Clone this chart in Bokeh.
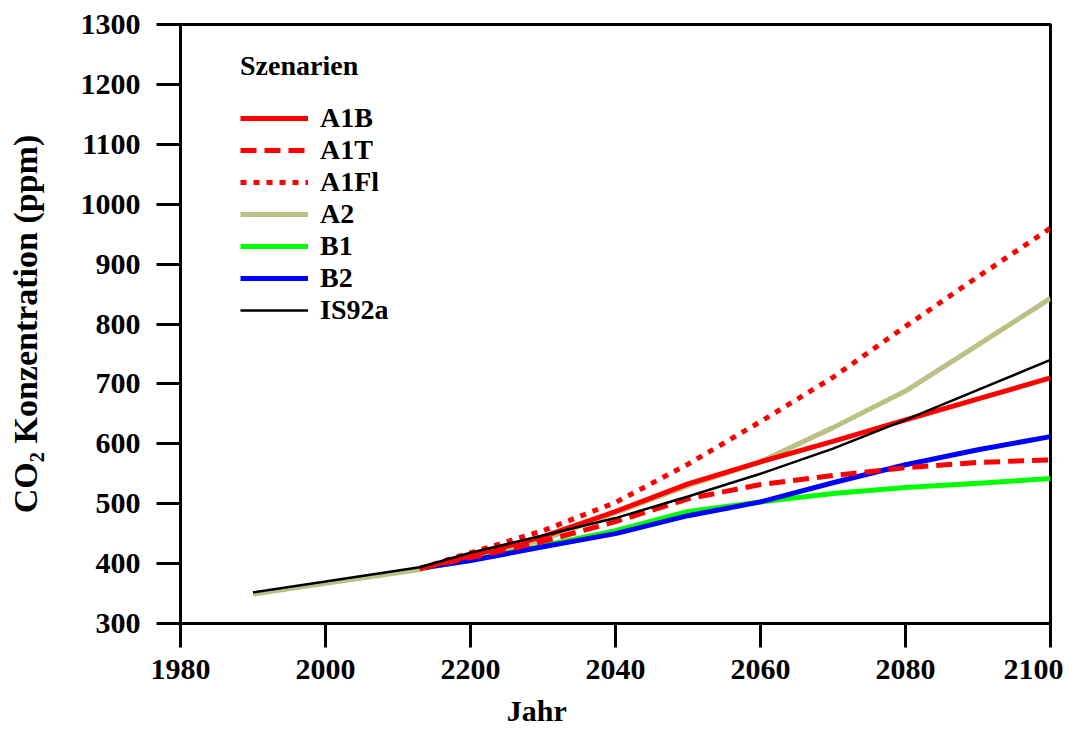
from bokeh.plotting import figure
from bokeh.models import (Range1d, FixedTicker, Legend, LegendItem,
                          ColumnDataSource)
from bokeh.embed import file_html
from bokeh.resources import INLINE

nan = float("nan")

# ---- data ----
YEARS = [1990, 2000, 2013, 2020, 2030, 2040, 2050, 2060, 2070, 2080, 2090, 2100]
A1B   = [nan, nan, 392, 413, 445, 487, 533, 570, 604, 640, 675, 710]
A1T   = [nan, nan, 392, 410, 437, 470, 508, 532, 547, 560, 569, 573]
A1FI  = [nan, nan, 392, 418, 455, 502, 566, 637, 711, 796, 879, 960]
A2    = [349, 367, 390, 410, 440, 485, 530, 570, 627, 688, 765, 843]
B1    = [nan, nan, 392, 405, 430, 455, 487, 503, 517, 527, 534, 542]
B2    = [nan, nan, 392, 405, 428, 450, 480, 503, 535, 565, 590, 612]
IS92A = [352, 370, 394, 418, 447, 476, 512, 550, 592, 640, 690, 740]

X_TICKS = [1980, 2000, 2020, 2040, 2060, 2080, 2100]
X_TICK_LABELS = ["1980", "2000", "2200", "2040", "2060", "2080", "2100"]
Y_TICKS = [300, 400, 500, 600, 700, 800, 900, 1000, 1100, 1200, 1300]

LEGEND_TITLE = "Szenarien"
X_LABEL = "Jahr"
Y_LABEL = "CO\u2082 Konzentration (ppm)"

FONT = "Liberation Serif"
NBSP = "\u00a0"

p = figure(width=1063, height=729, output_backend="svg", toolbar_location=None,
           x_range=Range1d(1980, 2100), y_range=Range1d(300, 1300),
           min_border_left=180, min_border_right=13, min_border_top=24,
           min_border_bottom=105)

p.xgrid.visible = False
p.ygrid.visible = False
p.outline_line_color = "black"
p.outline_line_width = 3
p.outline_line_alpha = 1.0
p.background_fill_color = "white"
p.border_fill_color = "white"

for ax in (p.xaxis[0], p.yaxis[0]):
    ax.axis_line_width = 3
    ax.axis_line_color = "black"
    ax.major_tick_line_width = 3
    ax.major_tick_line_color = "black"
    ax.major_tick_in = 0
    ax.major_tick_out = 24
    ax.minor_tick_line_color = None
    ax.major_label_text_font = FONT
    ax.major_label_text_font_style = "bold"
    ax.major_label_text_font_size = "30px"
    ax.major_label_text_color = "black"
    ax.axis_label_text_font = FONT
    ax.axis_label_text_font_style = "bold"
    ax.axis_label_text_color = "black"

p.xaxis.ticker = FixedTicker(ticks=X_TICKS)
p.xaxis.major_label_overrides = {t: l for t, l in zip(X_TICKS, X_TICK_LABELS)}
p.xaxis.major_label_standoff = 12
p.yaxis.ticker = FixedTicker(ticks=Y_TICKS)
p.yaxis.major_label_standoff = 16

p.yaxis.axis_label = Y_LABEL
p.yaxis.axis_label_text_font_size = "34px"
p.yaxis.axis_label_standoff = 34

# label sits left of the axis centre in the reference: pad with no-break spaces
p.xaxis.axis_label = X_LABEL + NBSP * 21
p.xaxis.axis_label_text_font_size = "30px"
p.xaxis.axis_label_standoff = 12

src = ColumnDataSource(dict(x=YEARS, a1b=A1B, a1t=A1T, a1fi=A1FI, a2=A2,
                            b1=B1, b2=B2, is92a=IS92A))

r_a2 = p.line("x", "a2", source=src, line_color="#bcc084", line_width=5)
r_b1 = p.line("x", "b1", source=src, line_color="#00ff00", line_width=5)
r_b2 = p.line("x", "b2", source=src, line_color="#0000ff", line_width=5)
r_a1t = p.line("x", "a1t", source=src, line_color="#ff0000", line_width=5,
               line_dash="16 8")
r_a1b = p.line("x", "a1b", source=src, line_color="#ff0000", line_width=5)
r_a1fi = p.line("x", "a1fi", source=src, line_color="#ff0000", line_width=5,
                line_dash="6 7")
r_is = p.line("x", "is92a", source=src, line_color="black", line_width=2.5)

legend = Legend(items=[
    LegendItem(label="A1B", renderers=[r_a1b]),
    LegendItem(label="A1T", renderers=[r_a1t]),
    LegendItem(label="A1Fl", renderers=[r_a1fi]),
    LegendItem(label="A2", renderers=[r_a2]),
    LegendItem(label="B1", renderers=[r_b1]),
    LegendItem(label="B2", renderers=[r_b2]),
    LegendItem(label="IS92a", renderers=[r_is]),
], location=(60, 297), title=LEGEND_TITLE)
legend.title_text_font = FONT
legend.title_text_font_style = "bold"
legend.title_text_font_size = "28px"
legend.title_text_color = "black"
legend.title_standoff = 20
legend.label_text_font = FONT
legend.label_text_font_style = "bold"
legend.label_text_font_size = "28px"
legend.label_text_color = "black"
legend.label_standoff = 12
legend.glyph_width = 68
legend.glyph_height = 20
legend.label_height = 20
legend.spacing = 0
legend.padding = 0
legend.margin = 0
legend.background_fill_alpha = 0
legend.border_line_color = None
p.add_layout(legend, "center")

open("out.html", "w").write(file_html(p, INLINE))
